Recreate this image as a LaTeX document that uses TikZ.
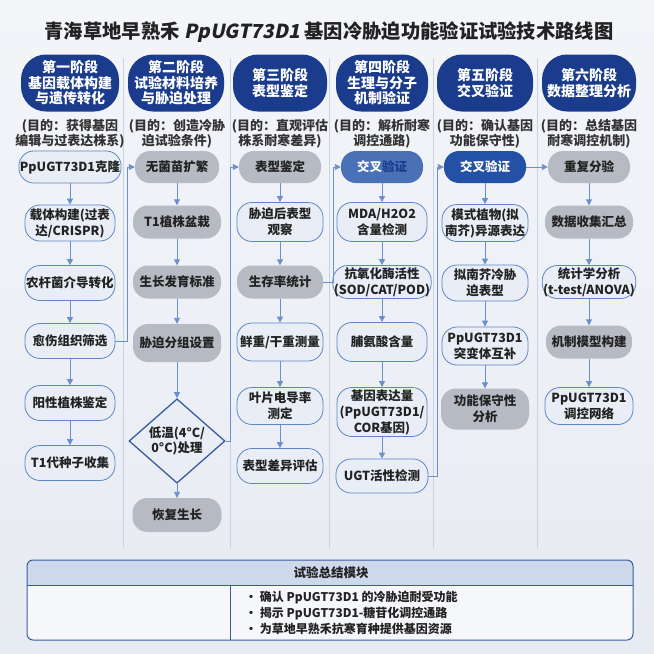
\documentclass[tikz,border=0pt]{standalone}
\usepackage{fontspec}
\setmainfont{Noto Sans CJK SC}
\newfontfamily\slantfont{Noto Sans CJK SC}[FakeSlant=0.2]
\usetikzlibrary{shapes.geometric,arrows.meta,calc}
\definecolor{bgtop}{HTML}{F3F5F9}
\definecolor{bgbot}{HTML}{E7EBF2}
\definecolor{navy}{HTML}{1B3C8C}
\definecolor{ltfill}{HTML}{E9EEF6}
\definecolor{ltdraw}{HTML}{5F86C4}
\definecolor{gyfill}{HTML}{B6BAC2}
\definecolor{arrowc}{HTML}{6A90CC}
\definecolor{midblue}{HTML}{4A70B6}
\definecolor{darkblue}{HTML}{2450A6}
\definecolor{txt}{HTML}{222222}
\definecolor{purp}{HTML}{333333}
\definecolor{sepc}{HTML}{C9D2E1}
\definecolor{boxdraw}{HTML}{3A5C9E}
\definecolor{headfill}{HTML}{CDD8EA}
\definecolor{boxfill}{HTML}{F5F7FB}
\begin{document}
\begin{tikzpicture}[x=1pt,y=-1pt,
  base/.style={align=center, text=txt, inner sep=1pt, rounded corners=15pt,
    font=\bfseries\fontsize{12.5}{16}\selectfont, minimum width=90pt, minimum height=32pt},
  lt/.style={base, draw=ltdraw, line width=0.8pt, fill=ltfill},
  gy/.style={base, fill=gyfill},
  bl/.style={base, fill=midblue, text=white},
  dbl/.style={base, fill=darkblue, text=white},
  head/.style={rectangle, rounded corners=25pt, fill=navy, inner sep=0pt, minimum width=98pt, minimum height=57pt},
  headtext/.style={text=white, align=center, inner sep=0pt, font=\bfseries\fontsize{14}{15.5}\selectfont},
  purpose/.style={align=center, text=purp, font=\bfseries\fontsize{13}{15}\selectfont},
  arr/.style={draw=arrowc, line width=0.9pt, -{Triangle[length=6pt,width=6pt]}},
  sep/.style={draw=sepc, line width=0.7pt}]
\useasboundingbox (0,0) rectangle (654,654);
\shade[top color=bgtop, bottom color=bgbot] (0,0) rectangle (654,654);
% separators
\foreach \xx in {123,230,329,433,537} \draw[sep] (\xx,58) -- (\xx,548);
% title
\node[font=\bfseries\fontsize{19.3}{22}\selectfont, text=txt] (title) at (329,32)
  {青海草地早熟禾 {\slantfont\bfseries PpUGT73D1} 基因冷胁迫功能验证试验技术路线图};
% headers
\node[head] (h1) at (70,83) {};
\node[headtext] (h1t) at (h1) {第一阶段\\基因载体构建\\与遗传转化};
\node[head, minimum width=96pt] (h2) at (176,83) {};
\node[headtext] (h2t) at (h2) {第二阶段\\试验材料培养\\与胁迫处理};
\node[head, minimum width=94pt] (h3) at (280,83) {};
\node[headtext] (h3t) at (h3) {第三阶段\\表型鉴定};
\node[head, minimum width=92pt] (h4) at (382,83) {};
\node[headtext] (h4t) at (h4) {第四阶段\\生理与分子\\机制验证};
\node[head, minimum width=96pt] (h5) at (485,83) {};
\node[headtext] (h5t) at (h5) {第五阶段\\交叉验证};
\node[head, minimum width=94pt] (h6) at (589,83) {};
\node[headtext] (h6t) at (h6) {第六阶段\\数据整理分析};
% purposes
\node[purpose] (p1) at (70,134) {(目的：获得基因\\编辑与过表达株系)};
\node[purpose] (p2) at (177,134) {(目的：创造冷胁\\迫试验条件)};
\node[purpose] (p3) at (280,134) {(目的：直观评估\\株系耐寒差异)};
\node[purpose] (p4) at (382,134) {(目的：解析耐寒\\调控通路)};
\node[purpose] (p5) at (485,134) {(目的：确认基因\\功能保守性)};
\node[purpose] (p6) at (589,134) {(目的：总结基因\\耐寒调控机制)};
% column 1
\node[lt] (a1) at (70,167) {PpUGT73D1克隆};
\node[lt, minimum height=36pt] (a2) at (70,223) {载体构建(过表\\达/CRISPR)};
\node[lt, minimum height=35pt] (a3) at (70,283) {农杆菌介导转化};
\node[lt, minimum height=35pt] (a4) at (70,341) {愈伤组织筛选};
\node[lt, minimum height=35pt] (a5) at (70,403) {阳性植株鉴定};
\node[lt, minimum height=35pt] (a6) at (70,463) {T1代种子收集};
% column 2
\node[gy, minimum width=84pt] (b1) at (177,167) {无菌苗扩繁};
\node[gy, minimum width=88pt, minimum height=33pt] (b2) at (177,222) {T1植株盆栽};
\node[gy, minimum width=88pt, minimum height=33pt] (b3) at (177,282) {生长发育标准};
\node[gy, minimum width=88pt, minimum height=38pt] (b4) at (177,343) {胁迫分组设置};
\node[diamond, draw=boxdraw, line width=1.3pt, fill=ltfill, minimum width=96pt, minimum height=62pt,
  inner sep=0pt, align=center, text=txt, font=\bfseries\fontsize{12.5}{15}\selectfont] (b5) at (177,441) {低温(4°C/\\0°C)处理};
\node[gy, minimum width=89pt, minimum height=34pt] (b6) at (177,515) {恢复生长};
% column 3
\node[gy, minimum width=82pt] (c1) at (280,167) {表型鉴定};
\node[lt, minimum width=86pt, minimum height=39pt] (c2) at (280,222) {胁迫后表型\\观察};
\node[gy, minimum width=86pt, minimum height=33pt] (c3) at (280,282) {生存率统计};
\node[lt, minimum width=86pt, minimum height=38pt] (c4) at (280,342) {鲜重/干重测量};
\node[lt, minimum width=86pt, minimum height=37pt] (c5) at (280,406) {叶片电导率\\测定};
\node[lt, minimum width=86pt, minimum height=35pt] (c6) at (280,466) {表型差异评估};
% column 4
\node[bl, minimum width=82pt] (d1) at (382,167) {交叉{\color{navy}验证}};
\node[lt, minimum width=90pt, minimum height=39pt] (d2) at (382,222) {MDA/H2O2\\含量检测};
\node[lt, minimum width=90pt, minimum height=33pt] (d3) at (382,282) {抗氧化酶活性\\(SOD/CAT/POD)};
\node[lt, minimum width=90pt, minimum height=39pt] (d4) at (382,342) {脯氨酸含量};
\node[lt, minimum width=90pt, minimum height=49pt] (d5) at (382,412) {基因表达量\\(PpUGT73D1/\\COR基因)};
\node[lt, minimum width=92pt, minimum height=34pt] (d6) at (382,476) {UGT活性检测};
% column 5
\node[dbl, minimum width=82pt] (e1) at (485,167) {交叉验证};
\node[lt, minimum width=86pt, minimum height=37pt] (e2) at (485,223) {模式植物(拟\\南芥)异源表达};
\node[lt, minimum width=86pt, minimum height=36pt] (e3) at (485,283) {拟南芥冷胁\\迫表型};
\node[lt, minimum width=86pt, minimum height=38pt] (e4) at (485,346) {PpUGT73D1\\突变体互补};
\node[gy, minimum width=88pt, minimum height=41pt] (e5) at (485,409) {功能保守性\\分析};
% column 6
\node[gy, minimum width=82pt] (f1) at (589,167) {重复分验};
\node[gy, minimum width=88pt, minimum height=33pt] (f2) at (589,222) {数据收集汇总};
\node[lt, minimum width=88pt, minimum height=33pt] (f3) at (589,282) {统计学分析\\(t-test/ANOVA)};
\node[gy, minimum width=86pt, minimum height=33pt] (f4) at (589,342) {机制模型构建};
\node[lt, minimum width=88pt, minimum height=37pt] (f5) at (589,406) {PpUGT73D1\\调控网络};
% vertical arrows
\foreach \p/\q in {a1/a2,a2/a3,a3/a4,a4/a5,a5/a6,b1/b2,b2/b3,b3/b4,b4/b5,b5/b6,
  c1/c2,c2/c3,c3/c4,c4/c5,c5/c6,d1/d2,d2/d3,d3/d4,d4/d5,d5/d6,e1/e2,e2/e3,e3/e4,e4/e5,
  f1/f2,f2/f3,f3/f4,f4/f5}
  \draw[arr] (\p) -- (\q);
% cross-column connectors
\draw[arr] (a4.east) -- ++(12,0) |- (b1.west);
\draw[arr] (b5.east) -- ++(5,0) |- (c1.west);
\draw[arr] (c3.east) -- ++(10,0) |- (d1.west);
\draw[arr] (d6.east) -- ++(9,0) |- (e1.west);
\draw[arr] (e1) -- (f1);
% summary box
\begin{scope}
\clip[rounded corners=6pt] (27,560) rectangle (633,640);
\fill[boxfill] (27,560) rectangle (633,640);
\fill[headfill] (27,560) rectangle (633,585);
\end{scope}
\draw[boxdraw, line width=0.9pt] (27,585) -- (633,585);
\draw[boxdraw, line width=0.9pt] (230,585) -- (230,640);
\draw[boxdraw, line width=1pt, rounded corners=6pt] (27,560) rectangle (633,640);
\node[text=txt, font=\bfseries\fontsize{12.5}{14}\selectfont] (sumtitle) at (331,572.5) {试验总结模块};
\node[anchor=west, align=left, text=txt, inner sep=0pt, font=\bfseries\fontsize{12}{16}\selectfont] (sumtext) at (245,613)
  {• 确认 PpUGT73D1 的冷胁迫耐受功能\\• 揭示 PpUGT73D1-糖苷化调控通路\\• 为草地早熟禾抗寒育种提供基因资源};
\end{tikzpicture}
\end{document}
